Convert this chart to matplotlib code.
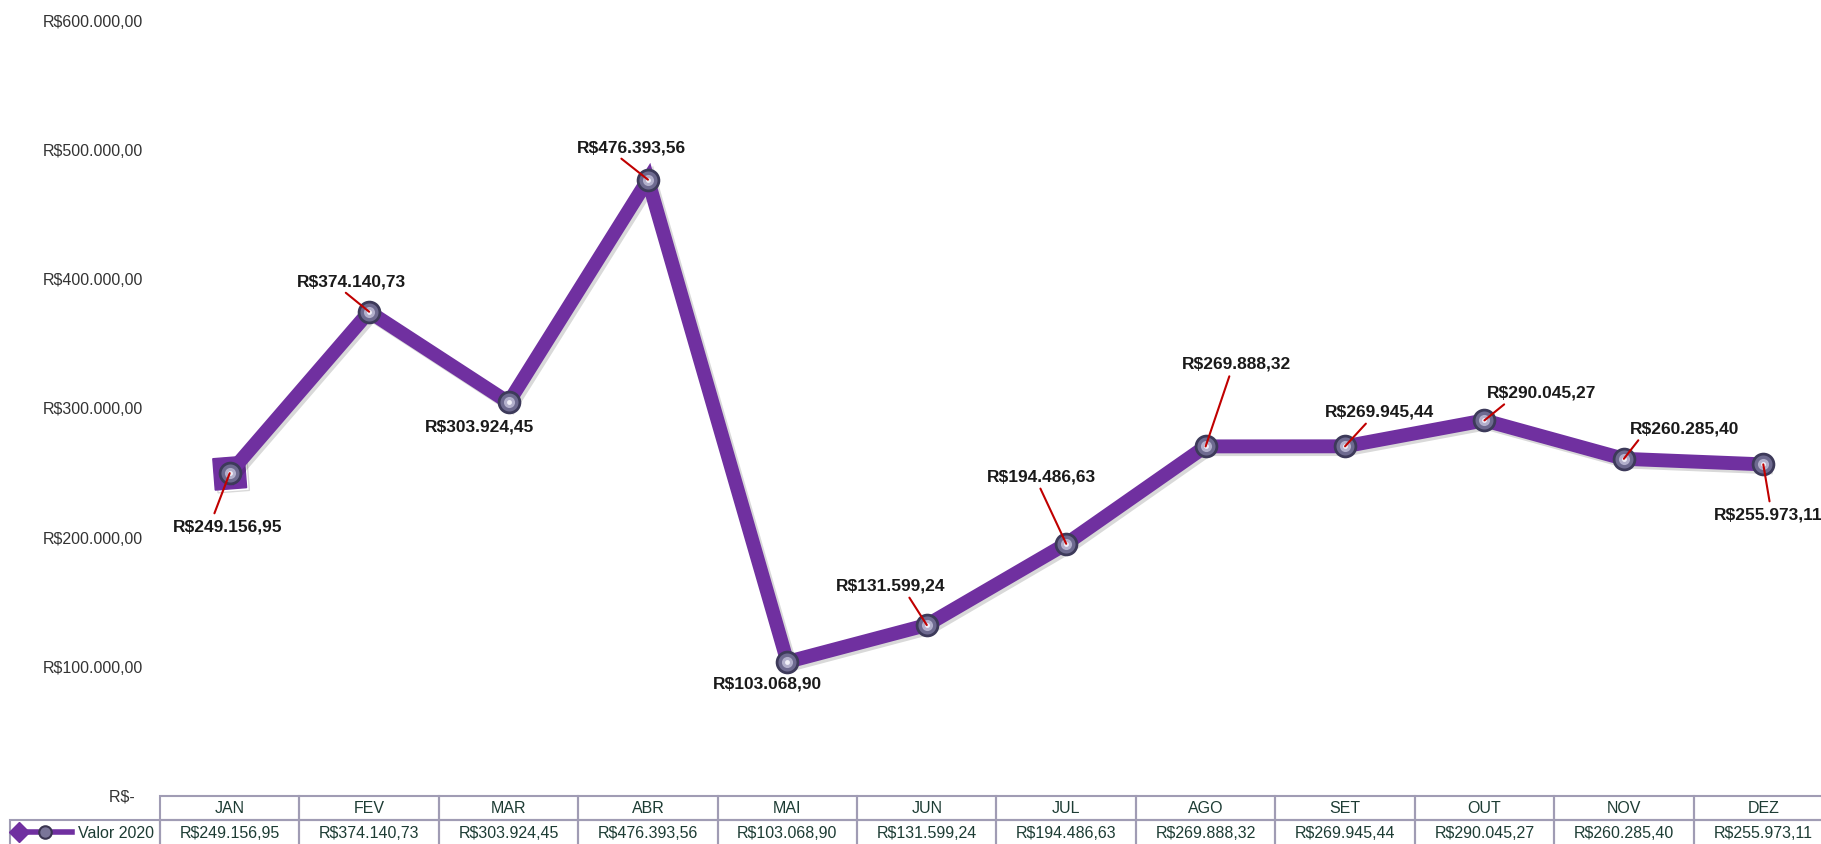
#!/usr/bin/env python3

# Valor mensal 2020 - linha com rotulos e tabela de dados embaixo

import matplotlib
matplotlib.use("Agg")
from matplotlib import pyplot as plt
from matplotlib.patches import Rectangle
from matplotlib.lines import Line2D
import matplotlib.patheffects as pe

plt.rcParams["font.family"] = ["Liberation Sans", "DejaVu Sans"]

meses = ["JAN", "FEV", "MAR", "ABR", "MAI", "JUN", "JUL", "AGO", "SET", "OUT", "NOV", "DEZ"]
valores = [249156.95, 374140.73, 303924.45, 476393.56, 103068.90, 131599.24,
           194486.63, 269888.32, 269945.44, 290045.27, 260285.40, 255973.11]
serie = "Valor 2020"
y_ticks = [0, 100000, 200000, 300000, 400000, 500000, 600000]

# deslocamento dos rotulos (pixels) e ponto de saida da linha guia
offsets = [(-2, -53), (-18, 31), (-29, -24), (-17, 33), (-20, -21), (-36, 40),
           (-25, 68), (31, 83), (34, 35), (57, 28), (61, 31), (5, -50)]
relpos = [(0.36, 1), (0.4, 0), None, (0.36, 0), None, (0.64, 0),
          (0.47, 0), (0.45, 0), (0.42, 0), (0.21, 0), (0.11, 0), (0.52, 1)]

roxo = "#7030A0"
verde = "#1d3c34"
borda = "#a09cb4"


def brl(v):
    if v == 0:
        return "R$-  "
    s = f"{v:,.2f}".replace(",", "X").replace(".", ",").replace("X", ".")
    return "R$" + s


W, H = 1821, 845
fig = plt.figure(figsize=(W / 100, H / 100), dpi=100)
ax = fig.add_axes([160 / W, 49 / H, 1673 / W, 775 / H])

x = list(range(len(meses)))
sombra = [pe.SimpleLineShadow(offset=(2, -2), alpha=0.15), pe.Normal()]

# inicio da linha em losango
ax.plot(x[0], valores[0], marker=(4, 0, 49.5), ms=32, color=roxo, zorder=2,
        path_effects=sombra)
ax.plot(x, valores, color=roxo, lw=10, solid_joinstyle="miter", zorder=3,
        path_effects=sombra)
ax.plot(x, valores, ls="none", marker="o", ms=15, mfc="#6e6a90", mec="#3d3a5a",
        mew=2, zorder=4)
ax.plot(x, valores, ls="none", marker="o", ms=8, mfc="#b3b0cc", mec="none", zorder=5)
ax.plot(x, valores, ls="none", marker="o", ms=3.5, mfc="#f0eff8", mec="none", zorder=5)

for xi, v, (dx, dy), rp in zip(x, valores, offsets, relpos):
    props = None
    if rp is not None:
        props = dict(arrowstyle="-", color="#c00000", lw=1.5, relpos=rp,
                     shrinkA=2, shrinkB=0)
    ax.annotate(brl(v), (xi, v), xytext=(dx, dy), textcoords="offset pixels",
                ha="center", va="center", fontsize=12.5, fontweight="bold",
                color="#1a1a1a", zorder=6, arrowprops=props)

ax.set_xlim(-0.5, 11.5)
ax.set_ylim(0, 600000)
ax.set_yticks(y_ticks)
ax.set_yticklabels([brl(t) for t in y_ticks], fontsize=11.5, color="#333333")
ax.tick_params(axis="y", length=0, pad=12)
ax.set_xticks([])
for sp in ax.spines.values():
    sp.set_visible(False)

# tabela de dados (x em dados, y em fracao do eixo)
tr = ax.get_xaxis_transform()
y_top = -1 / 775
y_mid = -25 / 775
y_bot = -51 / 775
for xi, m, v in zip(x, meses, valores):
    ax.add_patch(Rectangle((xi - 0.5, y_mid), 1, y_top - y_mid, transform=tr,
                           fill=False, ec=borda, lw=1.5, clip_on=False))
    ax.add_patch(Rectangle((xi - 0.5, y_bot), 1, y_mid - y_bot, transform=tr,
                           fill=False, ec=borda, lw=1.5, clip_on=False))
    ax.text(xi, (y_top + y_mid) / 2, m, transform=tr, ha="center", va="center",
            fontsize=11.5, color=verde, clip_on=False)
    ax.text(xi, (y_mid + y_bot) / 2, brl(v), transform=tr, ha="center", va="center",
            fontsize=11.5, color=verde, clip_on=False)

# celula da serie
x_lab = -0.5 - 150 / 139.4
ax.add_patch(Rectangle((x_lab, y_bot), -0.5 - x_lab, y_mid - y_bot, transform=tr,
                       fill=False, ec=borda, lw=1.5, clip_on=False))
ax.text(-0.5 - 6 / 139.4, (y_mid + y_bot) / 2, serie, transform=tr, ha="right",
        va="center", fontsize=11.5, color=verde, clip_on=False)

# icone da legenda
yl = (H - 833) / H
fig.add_artist(Line2D([16 / W, 72 / W], [yl, yl], color=roxo, lw=4, zorder=10))
fig.add_artist(Line2D([19 / W], [yl], marker="D", ms=10, color=roxo, ls="none", zorder=10))
fig.add_artist(Line2D([45 / W], [yl], marker="o", ms=9, mfc="#7a7598", mec="#3a3550",
                      mew=1.5, ls="none", zorder=11))

fig.savefig("out.png", dpi=100)
